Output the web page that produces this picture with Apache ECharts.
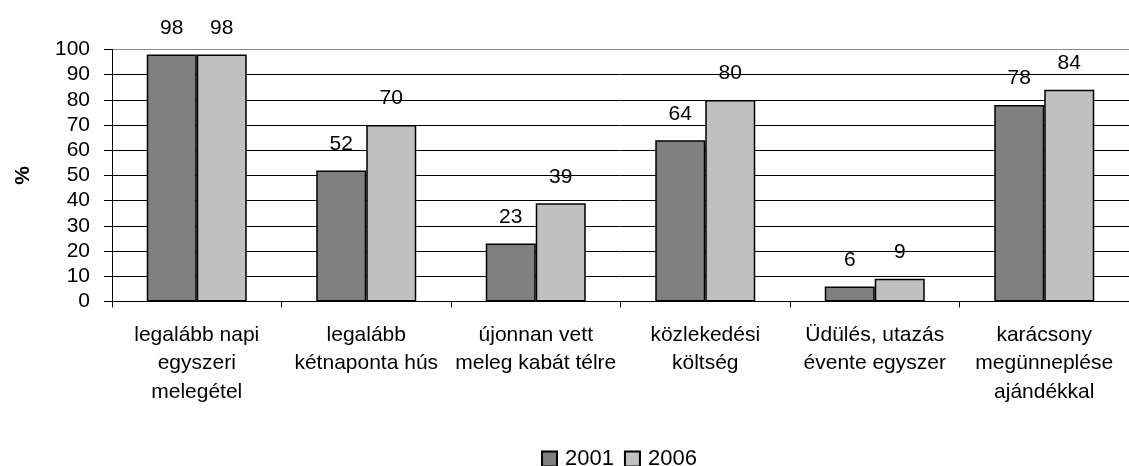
<!DOCTYPE html>
<html lang="hu">
<head>
<meta charset="UTF-8">
<title>chart</title>
<script src="https://cdn.jsdelivr.net/npm/echarts@6/dist/echarts.min.js"></script>
<style>
  html, body { margin: 0; padding: 0; background: #fff; }
  #chart { width: 1129px; height: 466px; }
</style>
</head>
<body>
<div id="chart"></div>
<script>
const categories = [
  'legalább napi\negyszeri\nmelegétel',
  'legalább\nkétnaponta hús',
  'újonnan vett\nmeleg kabát télre',
  'közlekedési\nköltség',
  'Üdülés, utazás\névente egyszer',
  'karácsony\nmegünneplése\najándékkal'
];
const values2001 = [98, 52, 23, 64, 6, 78];
const values2006 = [98, 70, 39, 80, 9, 84];

const font = '"Liberation Sans", Arial, sans-serif';
const chart = echarts.init(document.getElementById('chart'));

// top gridline is grey (plot border), others black
const gridColors = ['#000', '#000', '#000', '#000', '#000', '#000', '#000', '#000', '#000', '#000', '#8a8a8a'];

chart.setOption({
  animation: false,
  textStyle: { fontFamily: font, color: '#000' },
  grid: { left: 112, top: 49.5, width: 1028, bottom: 164.5, containLabel: false },
  legend: {
    top: 446,
    left: 536,
    padding: [2, 5],
    icon: 'rect',
    itemWidth: 15,
    itemHeight: 15,
    itemGap: 10,
    textStyle: { fontSize: 22, fontFamily: font, color: '#000', padding: [0, 0, 0, 3] },
    data: ['2001', '2006']
  },
  xAxis: {
    type: 'category',
    data: categories,
    axisLine: { lineStyle: { color: '#000', width: 1 } },
    axisTick: { show: true, length: 6, lineStyle: { color: '#000' } },
    axisLabel: { fontSize: 21, lineHeight: 28.5, color: '#000', margin: 19, fontFamily: font, interval: 0 }
  },
  yAxis: {
    type: 'value',
    min: 0,
    max: 100,
    interval: 10,
    name: '%',
    nameLocation: 'middle',
    nameRotate: 90,
    nameGap: 78,
    nameTextStyle: { fontSize: 21, fontWeight: 'bold', color: '#000', fontFamily: font },
    axisLine: { show: true, lineStyle: { color: '#000', width: 1 } },
    axisTick: { show: true, length: 8, lineStyle: { color: '#000' } },
    axisLabel: { fontSize: 21, color: '#000', margin: 22, fontFamily: font },
    splitLine: { show: true, lineStyle: { color: gridColors, width: 1 } }
  },
  series: [
    {
      name: '2001',
      type: 'bar',
      data: values2001,
      barWidth: 50,
      barGap: '0%',
      itemStyle: { color: '#808080', borderColor: '#000', borderWidth: 1.5 },
      label: { show: true, position: 'top', distance: 16, fontSize: 21, color: '#000', fontFamily: font }
    },
    {
      name: '2006',
      type: 'bar',
      data: values2006,
      barWidth: 50,
      barGap: '0%',
      itemStyle: { color: '#c0c0c0', borderColor: '#000', borderWidth: 1.5 },
      label: { show: true, position: 'top', distance: 16, fontSize: 21, color: '#000', fontFamily: font }
    }
  ]
});
</script>
</body>
</html>
